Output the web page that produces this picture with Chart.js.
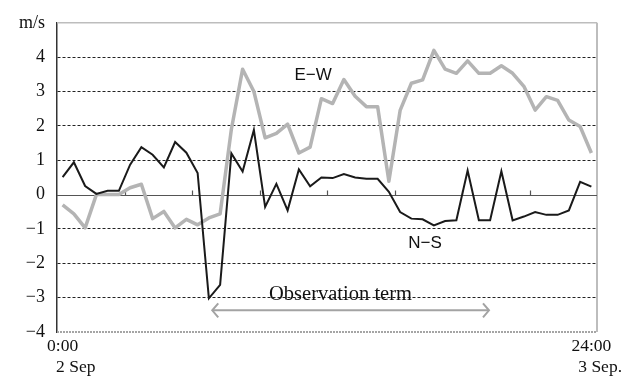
<!DOCTYPE html>
<html>
<head>
<meta charset="utf-8">
<script src="https://cdn.jsdelivr.net/npm/chart.js@4"></script>
<style>
  html, body { margin: 0; padding: 0; background: #fff; }
  #wrap { width: 633px; height: 376px; }
</style>
</head>
<body>
<div id="wrap"><canvas id="c" width="633" height="376"></canvas></div>
<script>
// Half-hourly wind components, 2-3 Sep
const timeLabels = ['0:00','0:30','1:00','1:30','2:00','2:30','3:00','3:30','4:00','4:30','5:00','5:30',
  '6:00','6:30','7:00','7:30','8:00','8:30','9:00','9:30','10:00','10:30','11:00','11:30',
  '12:00','12:30','13:00','13:30','14:00','14:30','15:00','15:30','16:00','16:30','17:00','17:30',
  '18:00','18:30','19:00','19:30','20:00','20:30','21:00','21:30','22:00','22:30','23:00','23:30'];

// East-west component (m/s)
const ewValues = [-0.30, -0.56, -0.97, 0.00, 0.00, 0.00, 0.20, 0.30, -0.70, -0.49, -0.97, -0.72,
  -0.88, -0.68, -0.56, 1.90, 3.65, 3.00, 1.65, 1.78, 2.05, 1.21, 1.38, 2.79,
  2.65, 3.35, 2.86, 2.56, 2.56, 0.39, 2.45, 3.24, 3.34, 4.20, 3.65, 3.53,
  3.89, 3.53, 3.53, 3.75, 3.53, 3.15, 2.46, 2.85, 2.74, 2.17, 1.98, 1.21];

// North-south component (m/s)
const nsValues = [0.51, 0.94, 0.25, 0.02, 0.11, 0.11, 0.87, 1.38, 1.16, 0.79, 1.53, 1.22,
  0.63, -3.02, -2.63, 1.20, 0.67, 1.88, -0.36, 0.31, -0.46, 0.73, 0.24, 0.50,
  0.48, 0.60, 0.50, 0.46, 0.46, 0.08, -0.51, -0.70, -0.72, -0.90, -0.77, -0.75,
  0.70, -0.75, -0.75, 0.68, -0.75, -0.64, -0.51, -0.59, -0.59, -0.46, 0.37, 0.23];

const seriesNames = ['N\u2212S', 'E\u2212W'];
const startLabel = ['0:00', '\u00a0\u00a0\u00a0\u00a0\u00a0\u00a02 Sep'];
const endLabel = ['24:00', '\u00a0\u00a0\u00a0\u00a03 Sep.'];
const yUnit = 'm/s';
const termText = 'Observation term';
const termHours = [6.9, 19.2];

const SERIF = '"Liberation Serif", "Times New Roman", serif';
const SANS = '"Liberation Sans", Arial, sans-serif';

// hour (0-24) -> pixel along the time axis
function hourX(xs, h) { return xs.left + (xs.right - xs.left) * h / 24; }

const framePlugin = {
  id: 'frame',
  beforeDatasetsDraw(chart) {
    const { ctx, chartArea: a, scales: { x, y } } = chart;
    ctx.save();
    // top border
    ctx.strokeStyle = '#bdbdbd'; ctx.lineWidth = 1.5; ctx.setLineDash([]);
    ctx.beginPath(); ctx.moveTo(a.left, y.getPixelForValue(5)); ctx.lineTo(a.right, y.getPixelForValue(5)); ctx.stroke();
    // right border
    ctx.lineWidth = 2;
    ctx.beginPath(); ctx.moveTo(a.right, a.top); ctx.lineTo(a.right, a.bottom); ctx.stroke();
    // bottom border
    ctx.strokeStyle = '#a5a5a5'; ctx.lineWidth = 2; ctx.setLineDash([2, 1]);
    const yb = y.getPixelForValue(-4);
    ctx.beginPath(); ctx.moveTo(a.left, yb); ctx.lineTo(a.right, yb); ctx.stroke();
    // zero line with 3-hour tick marks
    ctx.setLineDash([]);
    ctx.strokeStyle = '#555'; ctx.lineWidth = 1.2;
    const y0 = Math.round(y.getPixelForValue(0)) + 0.5;
    ctx.beginPath(); ctx.moveTo(a.left, y0); ctx.lineTo(a.right, y0); ctx.stroke();
    for (let h = 3; h < 24; h += 3) {
      const px = Math.round(hourX(x, h)) + 0.5;
      ctx.beginPath(); ctx.moveTo(px, y0); ctx.lineTo(px, y0 - 5); ctx.stroke();
    }
    ctx.restore();
  },
  afterDatasetsDraw(chart) {
    const { ctx, scales: { x, y } } = chart;
    ctx.save();
    // series names
    ctx.fillStyle = '#111';
    ctx.font = '17px ' + SANS;
    ctx.textAlign = 'center'; ctx.textBaseline = 'middle';
    ctx.fillText(seriesNames[1], hourX(x, 11.38), y.getPixelForValue(3.47));
    ctx.fillText(seriesNames[0], hourX(x, 16.36), y.getPixelForValue(-1.43));
    // observation term
    ctx.font = '20.5px ' + SERIF;
    ctx.textBaseline = 'alphabetic';
    ctx.fillText(termText, hourX(x, 12.6), y.getPixelForValue(-3.08));
    const x1 = hourX(x, termHours[0]), x2 = hourX(x, termHours[1]);
    const ya = y.getPixelForValue(-3.37);
    ctx.strokeStyle = '#a3a3a3'; ctx.lineWidth = 2;
    ctx.beginPath(); ctx.moveTo(x1, ya); ctx.lineTo(x2, ya); ctx.stroke();
    ctx.beginPath();
    ctx.moveTo(x1 + 6, ya - 7); ctx.lineTo(x1, ya); ctx.lineTo(x1 + 6, ya + 7);
    ctx.moveTo(x2 - 6, ya - 7); ctx.lineTo(x2, ya); ctx.lineTo(x2 - 6, ya + 7);
    ctx.stroke();
    ctx.restore();
  }
};

new Chart(document.getElementById('c'), {
  type: 'line',
  data: {
    labels: timeLabels,
    datasets: [
      { label: seriesNames[0], data: nsValues, borderColor: '#1a1a1a', borderWidth: 2,
        pointRadius: 0, tension: 0, borderJoinStyle: 'miter', order: 0 },
      { label: seriesNames[1], data: ewValues, borderColor: '#b4b4b4', borderWidth: 3.5,
        pointRadius: 0, tension: 0, borderJoinStyle: 'round', order: 1 }
    ]
  },
  options: {
    responsive: false,
    animation: false,
    layout: { padding: { top: 16, right: 36, left: 0, bottom: 0 } },
    plugins: { legend: { display: false }, tooltip: { enabled: false } },
    scales: {
      x: {
        type: 'category',
        offset: true,
        grid: { display: false, drawTicks: false },
        border: { display: false },
        ticks: {
          autoSkip: false, maxRotation: 0, minRotation: 0, padding: 3,
          color: '#111', font: { family: SERIF, size: 17.5, lineHeight: 1.25 },
          callback: (v, i) => i === 0 ? startLabel : (i === timeLabels.length - 1 ? endLabel : null)
        },
        afterFit: s => { s.height = 44; }
      },
      y: {
        min: -4, max: 5,
        grid: {
          drawTicks: false, lineWidth: 1,
          color: c => (c.tick && [5, 0, -4].includes(c.tick.value)) ? 'rgba(0,0,0,0)' : '#222'
        },
        border: { display: true, color: '#333', width: 1.5, dash: [3, 2] },
        ticks: {
          stepSize: 1, padding: 12, color: '#111',
          font: { family: SERIF, size: 18 },
          callback: v => v === 5 ? yUnit : (v < 0 ? '\u2212' + Math.abs(v) : String(v))
        },
        afterFit: s => { s.width = 57; }
      }
    }
  },
  plugins: [framePlugin]
});
</script>
</body>
</html>
